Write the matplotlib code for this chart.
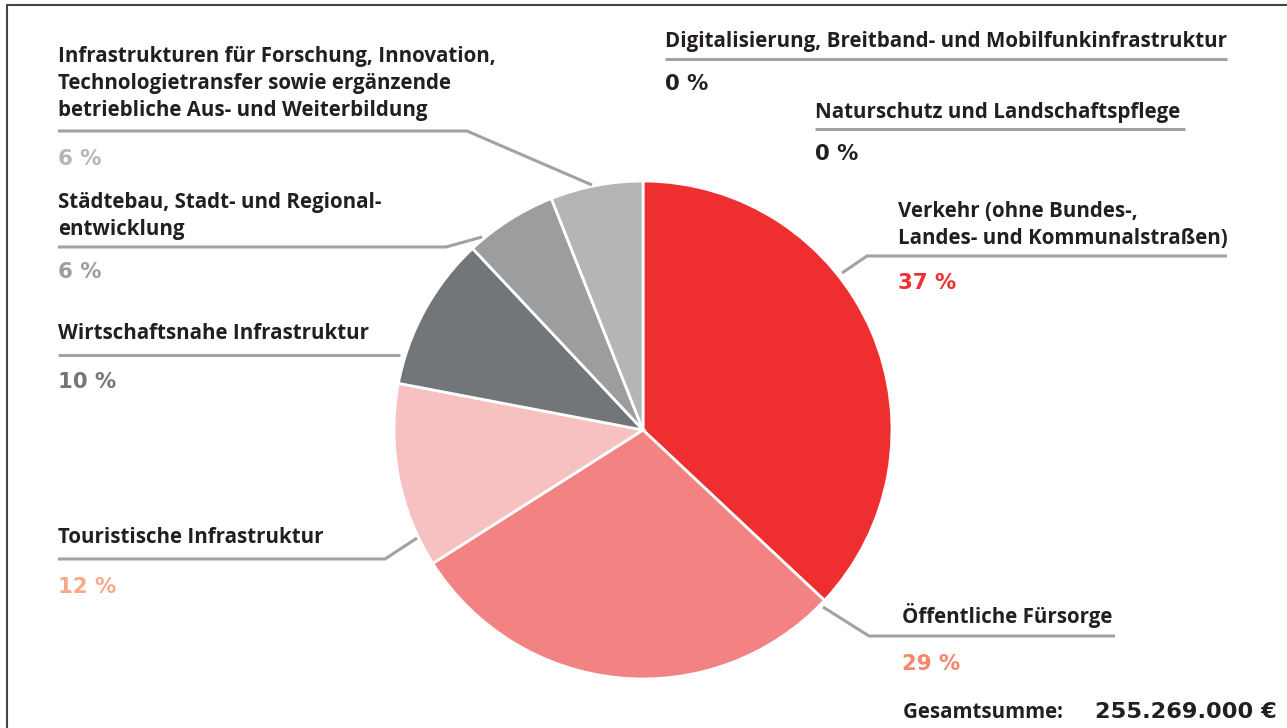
import matplotlib
matplotlib.use("Agg")
import matplotlib.pyplot as plt

# slices clockwise from 12 o'clock
slice_names = [
    "Verkehr (ohne Bundes-,\nLandes- und Kommunalstraßen)",
    "Öffentliche Fürsorge",
    "Touristische Infrastruktur",
    "Wirtschaftsnahe Infrastruktur",
    "Städtebau, Stadt- und Regional-\nentwicklung",
    "Infrastrukturen für Forschung, Innovation,\nTechnologietransfer sowie ergänzende\nbetriebliche Aus- und Weiterbildung",
]
slice_values = [37, 29, 12, 10, 6, 6]
slice_colors = ["#EE2E2F", "#F38282", "#F8C1C1", "#737678", "#9B9D9E", "#B3B5B6"]
pct_colors = ["#EE2E2F", "#F4876A", "#F9A98A", "#737678", "#9B9D9E", "#B3B5B6"]

zero_names = [
    "Digitalisierung, Breitband- und Mobilfunkinfrastruktur",
    "Naturschutz und Landschaftspflege",
]
zero_values = [0, 0]

total_label = "Gesamtsumme: "
total_value = "255.269.000 €"

TXT = "#231F20"
LINE = "#A0A3A4"
LABEL_FONT = dict(family="Open Sans", fontweight="bold", fontsize=14.8, color=TXT)
PCT_FONT = dict(family="DejaVu Sans", fontweight="bold", fontsize=15.3)

fig = plt.figure(figsize=(12.87, 7.28), dpi=100)
ax = fig.add_axes([0, 0, 1, 1])

# frame (left and top only visible)
ax.plot([7, 7, 1287], [728, 5, 5], color="#444444", lw=1.5, solid_capstyle="butt")

ax.pie(
    slice_values,
    colors=slice_colors,
    startangle=-90,
    counterclock=True,
    center=(643, 430),
    radius=249,
    wedgeprops=dict(edgecolor="white", linewidth=2),
    frame=True,
)
ax.set_xlim(0, 1287)
ax.set_ylim(728, 0)
ax.set_aspect("equal")
ax.axis("off")

# label layout: x, baselines of name lines, underline y, underline span, leader end, pct baseline
layout = [
    (898, [217, 244], 256, (867, 1227), (842, 273), 289),
    (902, [623], 636, (869, 1115), (823, 607), 670),
    (58, [543], 559, (58, 385), (417, 538), 593),
    (58, [339], 355, (58, 400), None, 388),
    (58, [208, 235], 247, (58, 446), (482, 237), 278),
    (58, [62, 89, 116], 131, (58, 467), (592, 185), 165),
]

for name, val, col, (x, bases, uy, (ux0, ux1), lead, pby) in zip(
        slice_names, slice_values, pct_colors, layout):
    for line, by in zip(name.split("\n"), bases):
        ax.text(x, by, line, va="baseline", ha="left", **LABEL_FONT)
    xs = [ux0, ux1]
    ys = [uy, uy]
    if lead is not None:
        if ux0 == 58:
            xs.append(lead[0])
            ys.append(lead[1])
        else:
            xs.insert(0, lead[0])
            ys.insert(0, lead[1])
    ax.plot(xs, ys, color=LINE, lw=2.2, solid_capstyle="butt")
    ax.text(x, pby, f"{val} %", va="baseline", ha="left", color=col, **PCT_FONT)

zero_layout = [
    (665, 47, 59, 1227, 90),
    (815, 118, 128.5, 1185, 160),
]
for name, val, (x, by, uy, ux1, pby) in zip(zero_names, zero_values, zero_layout):
    ax.text(x, by, name, va="baseline", ha="left", **LABEL_FONT)
    ax.plot([x, ux1], [uy, uy], color=LINE, lw=2.2, solid_capstyle="butt")
    ax.text(x, pby, f"{val} %", va="baseline", ha="left", color=TXT, **PCT_FONT)

ax.text(903, 718, total_label, va="baseline", ha="left", **LABEL_FONT)
ax.text(1277, 718, total_value, va="baseline", ha="right", color=TXT,
        family="DejaVu Sans", fontweight="bold", fontsize=16.2)

fig.savefig("out.png", dpi=100)
plt.close(fig)
